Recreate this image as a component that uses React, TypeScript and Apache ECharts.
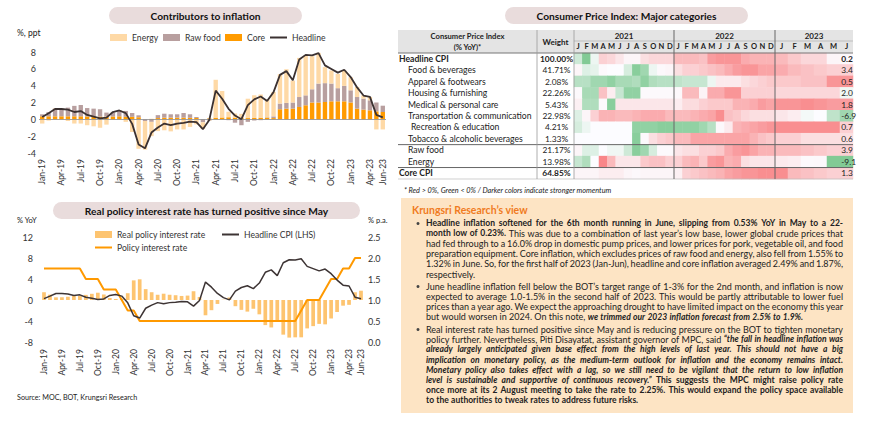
import React, { useEffect, useRef } from "react";
import * as echarts from "echarts";

const FONT = "Lato, 'Open Sans', 'DejaVu Sans', sans-serif";

// ---------- Data: contributors / policy charts ----------
const months = [
  "Jan-19","Feb-19","Mar-19","Apr-19","May-19","Jun-19","Jul-19","Aug-19","Sep-19","Oct-19","Nov-19","Dec-19",
  "Jan-20","Feb-20","Mar-20","Apr-20","May-20","Jun-20","Jul-20","Aug-20","Sep-20","Oct-20","Nov-20","Dec-20",
  "Jan-21","Feb-21","Mar-21","Apr-21","May-21","Jun-21","Jul-21","Aug-21","Sep-21","Oct-21","Nov-21","Dec-21",
  "Jan-22","Feb-22","Mar-22","Apr-22","May-22","Jun-22","Jul-22","Aug-22","Sep-22","Oct-22","Nov-22","Dec-22",
  "Jan-23","Feb-23","Mar-23","Apr-23","May-23","Jun-23"
];

const coreContrib = [
  0.36,0.36,0.36,0.36,0.36,0.36,0.36,0.34,0.34,0.32,0.32,0.34,
  0.36,0.3,0.3,0.25,0.0,0.05,0.15,0.2,0.2,0.2,0.2,0.18,
  0.16,0.0,0.1,0.2,0.22,0.25,0.2,0.15,0.15,0.15,0.2,0.2,
  0.15,1.2,1.27,1.27,1.47,1.67,2.0,2.0,2.06,2.14,2.14,2.14,
  2.0,1.27,1.15,1.07,0.95,0.87
];
const rawFoodContrib = [
  0.24,0.5,0.91,0.9,1.03,1.24,1.34,1.0,0.93,0.88,0.48,0.45,
  0.7,0.7,0.45,0.23,-0.2,-0.3,0.35,0.47,0.4,0.4,0.55,0.42,
  0.12,-0.35,-0.15,0.0,0.0,-0.1,-0.4,-0.7,-0.3,-0.15,-0.1,0.05,
  0.2,0.67,0.68,0.73,1.18,1.18,1.57,2.25,2.24,2.11,1.56,1.83,
  1.45,1.38,1.31,1.19,1.05,0.75
];
const energyContrib = [
  -0.5,-0.15,0.05,0.05,-0.2,-0.5,-0.5,-0.7,-0.83,-1.0,-0.63,0.05,
  0.02,-0.3,-1.5,-3.5,-3.4,-1.7,-1.4,-1.3,-1.43,-1.2,-1.2,-0.9,
  -0.6,-0.8,-0.05,4.5,3.15,0.65,0.5,0.5,2.3,2.7,2.75,2.1,
  2.9,3.5,4.0,2.6,4.65,4.75,3.93,3.65,1.9,1.55,1.7,1.83,
  1.55,1.2,0.4,0.4,-1.2,-1.2
];
const headlineCPI = [
  0.27,0.73,1.24,1.23,1.15,0.87,0.98,0.52,0.32,0.11,0.21,0.87,
  1.05,0.74,-0.54,-2.99,-3.44,-1.57,-0.98,-0.5,-0.7,-0.5,-0.41,-0.27,
  -0.34,-1.17,-0.08,3.41,2.44,1.25,0.45,0.02,1.68,2.38,2.71,2.17,
  3.23,5.28,5.73,4.65,7.1,7.66,7.61,7.86,6.41,5.98,5.55,5.89,
  5.02,3.79,2.83,2.67,0.53,0.23
];
const realPolicyRate = [
  1.48,1.02,0.51,0.52,0.6,0.88,0.77,0.98,1.18,1.39,1.04,0.38,
  0.2,0.26,1.29,3.74,3.94,2.07,1.48,1.0,1.2,1.0,0.91,0.77,
  0.84,1.67,0.58,-2.91,-1.94,-0.75,0.05,0.48,-1.18,-1.88,-2.21,-1.67,
  -2.73,-4.78,-5.23,-4.15,-6.6,-7.16,-7.11,-7.11,-5.41,-4.98,-4.55,-4.64,
  -3.52,-2.29,-1.08,-0.92,1.47,1.77
];
const policyRate = [
  1.75,1.75,1.75,1.75,1.75,1.75,1.75,1.5,1.5,1.5,1.25,1.25,
  1.25,1.0,0.75,0.75,0.5,0.5,0.5,0.5,0.5,0.5,0.5,0.5,
  0.5,0.5,0.5,0.5,0.5,0.5,0.5,0.5,0.5,0.5,0.5,0.5,
  0.5,0.5,0.5,0.5,0.5,0.5,0.5,0.75,1.0,1.0,1.0,1.25,
  1.5,1.5,1.75,1.75,2.0,2.0
];

// ---------- Data: CPI heat table ----------
const rowNames = [
  "Headline CPI","Food & beverages","Apparel & footwears","Housing & furnishing",
  "Medical & personal care","Transportation & communication","Recreation & education",
  "Tobacco & alcoholic beverages","Raw food","Energy","Core CPI"
];
const weights = ["100.00%","41.71%","2.08%","22.26%","5.43%","22.98%","4.21%","1.33%","21.17%","13.98%","64.85%"];
const juneLabels = ["0.2","3.4","0.5","2.0","1.8","-6.9","0.7","0.6","3.9","-9.1","1.3"];
const yearLabels = ["2021","2022","2023"];
const monthLetters = ["J","F","M","A","M","J","J","A","S","O","N","D"];
const monthLetters2023 = ["J","F","M","A","M","J"];

// momentum scores (-1 strong green ... +1 strong red)
const heat2021 = [
  [-0.3,-0.8,-0.1,0.3,0.25,0.15,0.05,0.05,0.2,0.25,0.25,0.25],
  [0.05,-0.2,-0.15,0.02,0,0,-0.25,-0.75,-0.6,-0.1,0.03,0.05],
  [-0.45,-0.45,-0.6,-0.6,-0.7,-0.55,-0.55,-0.5,-0.7,-0.5,-0.45,-0.45],
  [0.02,-0.55,-0.55,0.4,0.1,-0.35,-0.7,-0.7,0.02,0.02,0.02,0.02],
  [0.08,-0.5,-0.5,0.02,-0.75,0.15,0.15,0.15,0.15,0.15,0.15,0.15],
  [-0.2,0.05,0.3,0.5,0.5,0.45,0.45,0.5,0.55,0.55,0.55,0.45],
  [-0.25,-0.1,0,0,0,0,0,-0.7,-0.7,-0.7,-0.75,-0.75],
  [0,0,0,0,0,0,0,-0.75,0.02,0.2,0.3,0.35],
  [0.05,-0.2,-0.2,0,-0.08,-0.08,-0.3,-0.75,-0.6,-0.25,0.02,0.02],
  [-0.35,-0.5,0,0.8,0.45,0.15,0.15,0.15,0.35,0.4,0.4,0.3],
  [0.05,0.05,0.05,0.1,0.1,0.1,0.05,0.03,0.05,0.05,0.05,0.05]
];
const heat2022 = [
  [0.45,0.45,0.45,0.4,0.65,0.7,0.7,0.7,0.55,0.5,0.5,0.5],
  [0.2,0.3,0.3,0.35,0.4,0.45,0.55,0.65,0.7,0.7,0.6,0.6],
  [-0.4,-0.35,-0.35,-0.35,-0.1,0.12,0.12,0.12,0.2,0.25,0.3,0.35],
  [0.03,0.45,0.45,0.06,0.55,0.55,0.7,0.7,0.3,0.3,0.3,0.3],
  [0.1,0.22,0.22,0.3,0.35,0.35,0.35,0.5,0.5,0.55,0.65,0.6],
  [0.45,0.45,0.5,0.55,0.6,0.75,0.4,0.35,0.25,0.2,0.2,0.2],
  [-0.7,-0.7,-0.7,-0.6,-0.45,0.03,0.12,0.5,0.55,0.6,0.65,0.7],
  [0.45,0.45,0.6,0.6,0.6,0.6,0.6,0.6,0.6,0.5,0.4,0.35],
  [0.15,0.2,0.2,0.3,0.3,0.35,0.55,0.65,0.7,0.6,0.5,0.5],
  [0.3,0.45,0.5,0.35,0.65,0.7,0.5,0.55,0.2,0.15,0.15,0.15],
  [0.08,0.3,0.35,0.4,0.45,0.5,0.6,0.65,0.7,0.7,0.75,0.75]
];
const heat2023 = [
  [0.45,0.35,0.25,0.25,0.05,0.03],
  [0.55,0.45,0.4,0.35,0.3,0.3],
  [0.35,0.35,0.4,0.4,0.7,0.7],
  [0.25,0.25,0.25,0.25,0.25,-0.08],
  [0.7,0.7,0.75,0.7,0.65,0.65],
  [0.15,0.1,-0.05,0.0,-0.4,-0.6],
  [0.75,0.75,0.75,0.75,0.75,0.3],
  [0.3,0.3,0.2,0.2,0.2,0.2],
  [0.45,0.45,0.4,0.35,0.3,0.3],
  [0.12,0.1,0.02,0.03,-0.8,-0.8],
  [0.75,0.45,0.4,0.35,0.3,0.3]
];

// ---------- Text ----------
const titleContrib = "Contributors to inflation";
const titleCPI = "Consumer Price Index: Major categories";
const titleReal = "Real policy interest rate has turned positive since May";
const footnote = "* Red > 0%, Green < 0% / Darker colors indicate stronger momentum";
const sourceText = "Source: MOC, BOT, Krungsri Research";
const viewTitle = "Krungsri Research’s view";
const bullet1 = [
  "{b|Headline inflation softened for the 6th month running in June, slipping from 0.53% YoY in May to a 22-}",
  "{b|month low of 0.23%.}{r| This was due to a combination of last year’s low base, lower global crude prices that}",
  "{r|had fed through to a 16.0% drop in domestic pump prices, and lower prices for pork, vegetable oil, and food}",
  "{r|preparation equipment. Core inflation, which excludes prices of raw food and energy, also fell from 1.55% to}",
  "{r|1.32% in June. So, for the first half of 2023 (Jan-Jun), headline and core inflation averaged 2.49% and 1.87%,}",
  "{r|respectively.}"
];
const bullet2 = [
  "{r|June headline inflation fell below the BOT’s target range of 1-3% for the 2nd month, and inflation is now}",
  "{r|expected to average 1.0-1.5% in the second half of 2023. This would be partly attributable to lower fuel}",
  "{r|prices than a year ago. We expect the approaching drought to have limited impact on the economy this year}",
  "{r|but would worsen in 2024. On this note, }{bi|we trimmed our 2023 inflation forecast from 2.5% to 1.9%.}"
];
const bullet3 = [
  "{r|Real interest rate has turned positive since May and is reducing pressure on the BOT to tighten monetary}",
  "{r|policy further. Nevertheless, Piti Disayatat, assistant governor of MPC, said }{bi|“the fall in headline inflation was}",
  "{bi|already largely anticipated given base effect from the high levels of last year. This should not have a big}",
  "{bi|implication on monetary policy, as the medium-term outlook for inflation and the economy remains intact.}",
  "{bi|Monetary policy also takes effect with a lag, so we still need to be vigilant that the return to low inflation}",
  "{bi|level is sustainable and supportive of continuous recovery.”}{r| }{b|This suggests the MPC might raise policy rate}",
  "{b|once more at its 2 August meeting to take the rate to 2.25%. This would expand the policy space available}",
  "{b|to the authorities to tweak rates to address future risks.}"
];

const styleOf = (st: string) => ({
  fontWeight: st === "r" ? "normal" : "bold",
  fontStyle: st === "bi" ? "italic" : "normal",
  fontSize: st === "r" ? 9.0 : 8.5
});

function buildOption() {
  const labelInterval = (i: number) => i % 3 === 0 || i === months.length - 1;
  const axisText = { fontFamily: FONT, color: "#333" };

  // table geometry
  const tL = 398, cLab = 537, cW = 574, c22 = 674, c23 = 775, tR = 853;
  const hTop = 30, hBot = 53, tBot = 179;
  const rowH = (tBot - hBot) / rowNames.length;

  const g: any[] = [];
  const pill = (x: number, y: number, w: number, h: number, text: string) => {
    g.push({ type: "rect", z: 1, shape: { x, y, width: w, height: h, r: h / 2 }, style: { fill: "#e9dcdc" } });
    g.push({ type: "text", z: 2, x: x + w / 2, y: y + h / 2 + 0.5,
      style: { text, fill: "#111", fontFamily: FONT, fontWeight: "bold", fontSize: 10.2, align: "center", verticalAlign: "middle" } });
  };
  pill(109, 7, 193, 17, titleContrib);
  pill(505, 7, 243, 17, titleCPI);
  pill(53, 202, 307, 17, titleReal);

  const txt = (x: number, y: number, text: string, size: number, extra: any = {}) =>
    g.push({ type: "text", z: 3, x, y, style: { text, fill: "#222", fontFamily: FONT, fontSize: size, verticalAlign: "middle", ...extra } });

  txt(17, 33, "%, ppt", 8.5);
  txt(17, 220, "% YoY", 7.5);
  txt(368, 220, "% p.a.", 7.5);
  txt(17, 397, sourceText, 7.2);

  // table header
  g.push({ type: "rect", z: -5, shape: { x: tL, y: hTop, width: tR - tL, height: hBot - hTop }, style: { fill: "#e4e4e4" } });
  txt((tL + cLab) / 2, 36, "Consumer Price Index", 7.6, { fontWeight: "bold", align: "center" });
  txt((tL + cLab) / 2, 47, "(% YoY)*", 7.6, { fontWeight: "bold", align: "center" });
  txt((cLab + cW) / 2, 41.5, "Weight", 8, { fontWeight: "bold", align: "center" });
  const yc = [(cW + c22) / 2, (c22 + c23) / 2, (c23 + tR) / 2];
  yearLabels.forEach((y, i) => txt(yc[i], 35.5, y, 8, { fontWeight: "bold", align: "center" }));

  rowNames.forEach((name, r) => {
    const y = hBot + rowH * (r + 0.5);
    const bold = r === 0 || r === rowNames.length - 1;
    const x = bold ? 399 : r === 6 ? 411 : 408;
    txt(x, y, name, 8.6, { fontWeight: bold ? "bold" : "normal" });
    txt((cLab + cW) / 2 + 1, y, weights[r], 8.4, { fontWeight: bold ? "bold" : "normal", align: "center" });
  });
  const ln = (x1: number, y1: number, x2: number, y2: number, color: string, w: number) =>
    g.push({ type: "line", z: 4, shape: { x1, y1, x2, y2 }, style: { stroke: color, lineWidth: w } });
  ln(cW, 41, tR, 41, "#b0b0b0", 0.7);
  ln(tL, hBot, tR, hBot, "#777", 1);
  ln(tL, hBot + rowH * 8, tR, hBot + rowH * 8, "#666", 1);
  ln(tL, hBot + rowH * 10, tR, hBot + rowH * 10, "#666", 1);
  ln(tL, tBot, tR, tBot, "#bbb", 0.7);
  ln(cLab, hTop, cLab, tBot, "#999", 0.8);
  ln(cW, hTop, cW, tBot, "#999", 0.8);
  ln(c22, hTop, c22, tBot, "#666", 1);
  ln(c23, hTop, c23, tBot, "#666", 1);
  txt(404, 190, footnote, 7.3, { fontStyle: "italic" });

  // research view box
  g.push({ type: "rect", z: -5, shape: { x: 401, y: 198, width: 452, height: 215 }, style: { fill: "#fde4c4" } });
  txt(412, 210, viewTitle, 10.5, { fontWeight: "bold", fill: "#f07b22" });

  // justified paragraphs: measure words with canvas, place each run as text
  const canvas = document.createElement("canvas");
  const ctx = canvas.getContext("2d") as CanvasRenderingContext2D;
  const fontFor = (st: string) => {
    const s = styleOf(st);
    return `${s.fontStyle === "italic" ? "italic " : ""}${s.fontWeight === "bold" ? "bold " : ""}${s.fontSize}px Lato`;
  };
  const measure = (st: string, t: string) => { ctx.font = fontFor(st); return ctx.measureText(t).width; };
  const textLeft = 426, textRight = 843, lh = 10.2;
  const layoutLine = (line: string, y: number, justify: boolean) => {
    const runs: [string, string][] = [];
    line.replace(/\{(\w+)\|([^}]*)\}/g, (_m, st, t) => { runs.push([st, t]); return ""; });
    const words: [string, string][][] = [];
    let cur: [string, string][] | null = null;
    runs.forEach(([st, t]) => {
      for (const ch of Array.from(t)) {
        if (ch === " ") { if (cur) { words.push(cur); cur = null; } continue; }
        if (!cur) cur = [];
        const last = cur[cur.length - 1];
        if (last && last[0] === st) last[1] += ch; else cur.push([st, ch]);
      }
    });
    if (cur) words.push(cur);
    const widths = words.map(w => w.reduce((s, [st, t]) => s + measure(st, t), 0));
    const total = widths.reduce((a, b) => a + b, 0);
    const space = measure("r", " ");
    const gap = justify && words.length > 1 ? (textRight - textLeft - total) / (words.length - 1) : space;
    let x = textLeft;
    words.forEach((w, i) => {
      let wx = x;
      w.forEach(([st, t]) => {
        const s = styleOf(st);
        g.push({ type: "text", z: 3, x: wx, y, style: { text: t, fill: "#222", fontFamily: "Lato", fontSize: s.fontSize,
          fontWeight: s.fontWeight, fontStyle: s.fontStyle, verticalAlign: "middle" } });
        wx += measure(st, t);
      });
      x += widths[i] + gap;
    });
  };
  const para = (lines: string[], y0: number) => {
    g.push({ type: "circle", z: 3, shape: { cx: 418, cy: y0 + 0.5, r: 1.5 }, style: { fill: "#444" } });
    lines.forEach((l, i) => layoutLine(l, y0 + i * lh, i < lines.length - 1));
  };
  para(bullet1, 223);
  para(bullet2, 286);
  para(bullet3, 329);

  const legendBase = {
    itemWidth: 17, itemHeight: 7, itemGap: 0, padding: 0, selectedMode: false,
    textStyle: { fontSize: 8.6, fontFamily: FONT, color: "#333" }
  };
  const legendLine = { ...legendBase, itemHeight: 2 };

  const heatSeries = (arr: number[][], xi: number, yi: number, name: string, withLabels: boolean) => ({
    type: "heatmap", name, xAxisIndex: xi, yAxisIndex: yi, silent: true,
    emphasis: { disabled: true },
    itemStyle: { borderWidth: 0 },
    data: arr.flatMap((row, r) => row.map((v, c) => {
      const item: any = { value: [c, r, v] };
      if (withLabels && c === row.length - 1) {
        item.label = { show: true, formatter: juneLabels[r], position: "insideLeft", distance: 1.5,
          fontFamily: FONT, fontSize: 8.4, color: "#222", fontWeight: r === 0 ? "bold" : "normal" };
      }
      return item;
    }))
  });

  const heatX = (gi: number, data: string[]) => ({
    type: "category", gridIndex: gi, data, position: "top",
    axisLine: { show: false }, axisTick: { show: false }, splitLine: { show: false },
    axisLabel: { interval: 0, margin: 3, fontSize: 7.5, fontWeight: "bold", fontFamily: FONT, color: "#222" }
  });
  const heatY = (gi: number) => ({ type: "category", gridIndex: gi, data: rowNames, inverse: true, show: false });

  return {
    animation: false,
    textStyle: { fontFamily: FONT },
    grid: [
      { left: 39, top: 52, width: 347, height: 101 },
      { left: 41, top: 237, width: 323, height: 105 },
      { left: cW, top: hBot, width: c22 - cW, height: tBot - hBot },
      { left: c22, top: hBot, width: c23 - c22, height: tBot - hBot },
      { left: c23, top: hBot, width: tR - c23, height: tBot - hBot }
    ],
    xAxis: [
      { type: "category", gridIndex: 0, data: months,
        axisLine: { show: false, onZero: false }, axisTick: { show: false },
        axisLabel: { ...axisText, rotate: 90, interval: labelInterval, fontSize: 8.5, margin: 6 } },
      { type: "category", gridIndex: 1, data: months,
        axisLine: { show: false, onZero: false }, axisTick: { show: false },
        axisLabel: { ...axisText, rotate: 90, interval: labelInterval, fontSize: 8.5, margin: 7 } },
      heatX(2, monthLetters), heatX(3, monthLetters), heatX(4, monthLetters2023)
    ],
    yAxis: [
      { type: "value", gridIndex: 0, min: -4, max: 8, interval: 2,
        axisLine: { show: false }, axisTick: { show: false }, splitLine: { show: false },
        axisLabel: { ...axisText, fontSize: 9, margin: 3 } },
      { type: "value", gridIndex: 1, min: -8, max: 12, interval: 4,
        axisLine: { show: false }, axisTick: { show: false }, splitLine: { show: false },
        axisLabel: { ...axisText, fontSize: 9, margin: 8 } },
      { type: "value", gridIndex: 1, position: "right", min: 0, max: 2.5, interval: 0.5,
        axisLine: { show: false }, axisTick: { show: false }, splitLine: { show: false },
        axisLabel: { ...axisText, fontSize: 9, margin: 4, formatter: (v: number) => v.toFixed(1) } },
      heatY(2), heatY(3), heatY(4)
    ],
    legend: [
      { ...legendBase, left: 110, top: 33, data: [{ name: "Energy", icon: "rect" }] },
      { ...legendBase, left: 163, top: 33, data: [{ name: "Raw food", icon: "rect" }] },
      { ...legendBase, left: 225, top: 33, data: [{ name: "Core", icon: "rect" }] },
      { ...legendLine, left: 270, top: 33, data: [{ name: "Headline", icon: "rect" }] },
      { ...legendBase, left: 95, top: 230, data: [{ name: "Real policy interest rate", icon: "rect" }] },
      { ...legendLine, left: 222, top: 230, data: [{ name: "Headline CPI (LHS)", icon: "rect" }] },
      { ...legendLine, left: 95, top: 243, data: [{ name: "Policy interest rate", icon: "rect" }] }
    ],
    visualMap: {
      type: "continuous", show: false, min: -1, max: 1, dimension: 2, seriesIndex: [7, 8, 9],
      inRange: { color: ["#63BE7B", "#FCFCFF", "#F8696B"] }
    },
    series: [
      { type: "bar", name: "Core", stack: "c", xAxisIndex: 0, yAxisIndex: 0, data: coreContrib,
        barWidth: "68%", itemStyle: { color: "#ff9b00" },
        markLine: { silent: true, symbol: "none", label: { show: false },
          lineStyle: { color: "#8c8c8c", width: 0.8, type: "solid" }, data: [{ yAxis: 0 }] } },
      { type: "bar", name: "Raw food", stack: "c", xAxisIndex: 0, yAxisIndex: 0, data: rawFoodContrib,
        barWidth: "68%", itemStyle: { color: "#b89f9f" } },
      { type: "bar", name: "Energy", stack: "c", xAxisIndex: 0, yAxisIndex: 0, data: energyContrib,
        barWidth: "68%", itemStyle: { color: "#fed9a6" } },
      { type: "line", name: "Headline", xAxisIndex: 0, yAxisIndex: 0, data: headlineCPI, symbol: "none", z: 5,
        lineStyle: { color: "#3b3131", width: 1.8 }, itemStyle: { color: "#3b3131" } },
      { type: "bar", name: "Real policy interest rate", xAxisIndex: 1, yAxisIndex: 1, data: realPolicyRate,
        barWidth: "62%", itemStyle: { color: "#fdc470" } },
      { type: "line", name: "Headline CPI (LHS)", xAxisIndex: 1, yAxisIndex: 1, data: headlineCPI, symbol: "none", z: 5,
        lineStyle: { color: "#3d3434", width: 1.5 }, itemStyle: { color: "#3d3434" } },
      { type: "line", name: "Policy interest rate", xAxisIndex: 1, yAxisIndex: 2, data: policyRate, symbol: "none", z: 4,
        lineStyle: { color: "#ff9900", width: 2 }, itemStyle: { color: "#ff9900" } },
      heatSeries(heat2021, 2, 3, "2021", false),
      heatSeries(heat2022, 3, 4, "2022", false),
      heatSeries(heat2023, 4, 5, "2023", true)
    ],
    graphic: { elements: g }
  };
}

export default function App() {
  const ref = useRef<HTMLDivElement>(null);
  useEffect(() => {
    document.body.style.margin = "0";
    if (!ref.current) return;
    const chart = echarts.init(ref.current, undefined, { renderer: "svg" });
    chart.setOption(buildOption() as any);
    return () => chart.dispose();
  }, []);
  return <div ref={ref} style={{ width: 870, height: 422, background: "#fff" }} />;
}
